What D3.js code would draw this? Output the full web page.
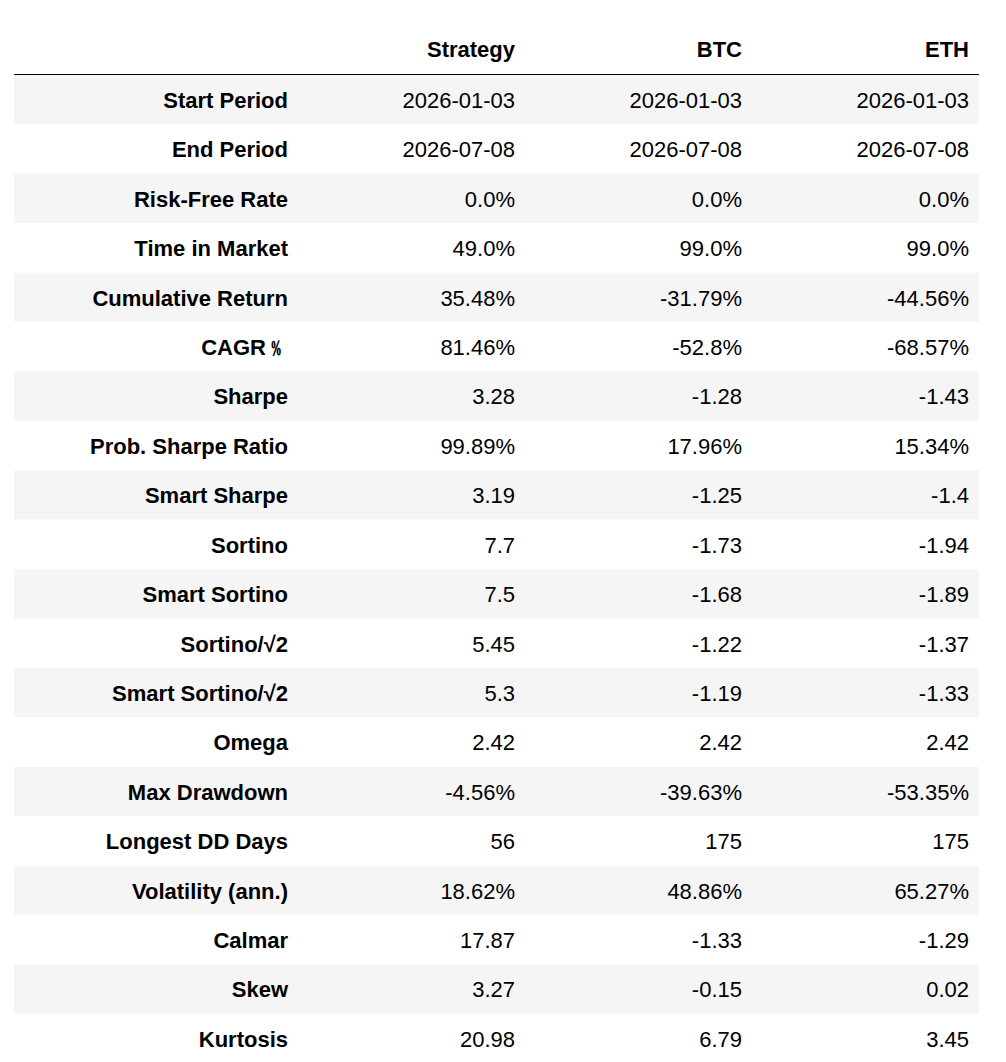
<!DOCTYPE html>
<html>
<head>
<meta charset="utf-8">
<script src="https://cdn.jsdelivr.net/npm/d3@7"></script>
<style>
  body { margin: 0; background: #fff; }
  svg text { font-family: "Liberation Sans", Arial, Helvetica, sans-serif; font-size: 22px; fill: #000; }
</style>
</head>
<body>
<div id="table"></div>
<script>
// columns and metric names
const columns = ["Strategy", "BTC", "ETH"];
const metrics = ["Start Period", "End Period", "Risk-Free Rate", "Time in Market",
    "Cumulative Return", "CAGR\uFE6A", "Sharpe", "Prob. Sharpe Ratio", "Smart Sharpe",
    "Sortino", "Smart Sortino", "Sortino/\u221A2", "Smart Sortino/\u221A2", "Omega",
    "Max Drawdown", "Longest DD Days", "Volatility (ann.)", "Calmar", "Skew", "Kurtosis"];

const strategy = ["2026-01-03", "2026-07-08", "0.0%", "49.0%", "35.48%", "81.46%", "3.28",
    "99.89%", "3.19", "7.7", "7.5", "5.45", "5.3", "2.42", "-4.56%", "56", "18.62%",
    "17.87", "3.27", "20.98"];
const btc = ["2026-01-03", "2026-07-08", "0.0%", "99.0%", "-31.79%", "-52.8%", "-1.28",
    "17.96%", "-1.25", "-1.73", "-1.68", "-1.22", "-1.19", "2.42", "-39.63%", "175", "48.86%",
    "-1.33", "-0.15", "6.79"];
const eth = ["2026-01-03", "2026-07-08", "0.0%", "99.0%", "-44.56%", "-68.57%", "-1.43",
    "15.34%", "-1.4", "-1.94", "-1.89", "-1.37", "-1.33", "2.42", "-53.35%", "175", "65.27%",
    "-1.29", "0.02", "3.45"];

const width = 1006, height = 1062;
const rowTop = 75, rowStep = 49.42;

const svg = d3.select("#table")
    .append("svg")
    .attr("width", width)
    .attr("height", height);

const y = d3.scaleBand()
    .domain(metrics)
    .range([rowTop, rowTop + rowStep * metrics.length]);

const x = d3.scaleBand()
    .domain(["label"].concat(columns))
    .range([61, 969]);

// striped rows
svg.selectAll("rect.stripe")
    .data(metrics.filter((d, i) => i % 2 === 0))
    .enter()
    .append("rect")
    .attr("class", "stripe")
    .attr("x", 14)
    .attr("width", 965)
    .attr("y", d => y(d))
    .attr("height", y.bandwidth() - 0.4)
    .attr("fill", "#f5f5f5");

// header
svg.selectAll("text.head")
    .data(columns)
    .enter()
    .append("text")
    .attr("class", "head")
    .attr("x", d => x(d) + x.bandwidth())
    .attr("y", 49)
    .attr("dy", "0.35em")
    .attr("text-anchor", "end")
    .attr("font-weight", "bold")
    .text(d => d);

svg.append("line")
    .attr("x1", 14).attr("x2", 979)
    .attr("y1", 74.5).attr("y2", 74.5)
    .attr("stroke", "#000")
    .attr("stroke-width", 1);

// row labels
svg.selectAll("text.label")
    .data(metrics)
    .enter()
    .append("text")
    .attr("class", "label")
    .attr("x", x("label") + x.bandwidth())
    .attr("y", d => y(d) + y.bandwidth() / 2 + 0.5)
    .attr("dy", "0.35em")
    .attr("text-anchor", "end")
    .attr("font-weight", "bold")
    .text(d => d);

// values
const series = [strategy, btc, eth];
columns.forEach((col, c) => {
    svg.selectAll("text.v" + c)
        .data(series[c])
        .enter()
        .append("text")
        .attr("class", "v" + c)
        .attr("x", x(col) + x.bandwidth())
        .attr("y", (d, i) => y(metrics[i]) + y.bandwidth() / 2 + 0.5)
        .attr("dy", "0.35em")
        .attr("text-anchor", "end")
        .text(d => d);
});
</script>
</body>
</html>
